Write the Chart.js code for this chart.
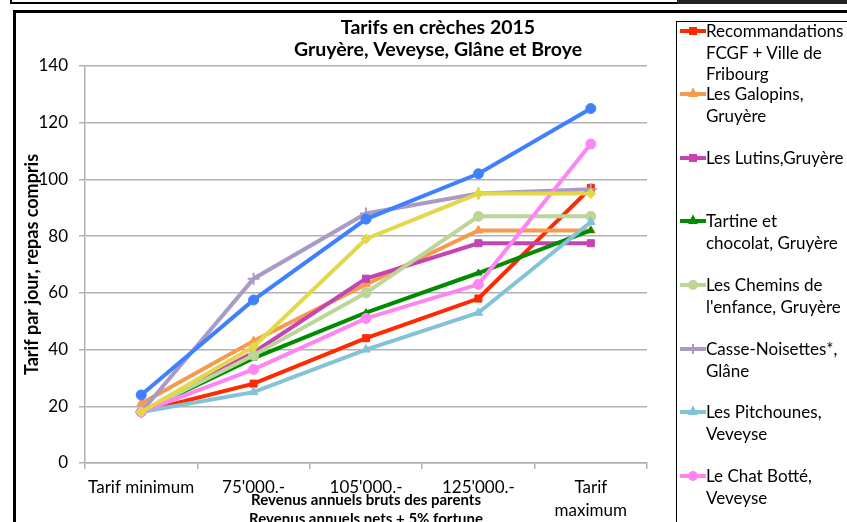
<!DOCTYPE html>
<html>
<head>
<meta charset="utf-8">
<script src="https://cdn.jsdelivr.net/npm/chart.js@4/dist/chart.umd.min.js"></script>
<style>
  html, body { margin: 0; padding: 0; background: #fff; overflow: hidden; width: 847px; height: 522px; }
  body { position: relative; font-family: Lato, sans-serif; }
  .topbox { position: absolute; left: 10px; top: -10px; width: 900px; height: 10px; border: 2px solid #000; }
  .topdark { position: absolute; left: 677px; top: 0; width: 180px; height: 4px; background: #222; }
  .frame { position: absolute; left: 13px; top: 10px; width: 900px; height: 600px; border: 3px solid #000; }
  #chart { position: absolute; left: 15px; top: 12px; }
  .legend { position: absolute; left: 676px; top: 21px; width: 300px; height: 600px; border: 1px solid #000; background: #fff; }
  .item { position: absolute; left: 0; font-size: 17px; line-height: 21.5px; color: #000; white-space: nowrap; }
  .item .txt { position: absolute; left: 29px; top: 0; }
  .item .line { position: absolute; left: 3px; top: 9px; width: 26px; height: 4px; }
  .item .mk { position: absolute; left: 11px; top: 6px; width: 10px; height: 10px; }
</style>
</head>
<body>
<div class="topbox"></div>
<div class="topdark"></div>
<div class="frame"></div>
<canvas id="chart" width="846" height="520"></canvas>
<div class="legend" id="legend"></div>
<script>
const categories = ['Tarif minimum', "75'000.-", "105'000.-", "125'000.-", ['Tarif', 'maximum']];

// libellés de la légende, coupés comme dans l'original
const seriesNames = [
    ['Recommandations', 'FCGF + Ville de', 'Fribourg'],
    ['Les Galopins,', 'Gruyère'],
    ['Les Lutins,Gruyère'],
    ['Tartine et', 'chocolat, Gruyère'],
    ['Les Chemins de', "l'enfance, Gruyère"],
    ['Casse-Noisettes*,', 'Glâne'],
    ['Les Pitchounes,', 'Veveyse'],
    ['Le Chat Botté,', 'Veveyse'],
    ['Série 9'],
    ['Série 10']
];

const recommandations = [18, 28, 44, 58, 97];
const galopins = [21, 43, 63, 82, 82];
const lutins = [18, 39, 65, 77.5, 77.5];
const tartine = [18, 37, 53, 67, 82];
const chemins = [18, 38, 60, 87, 87];
const casseNoisettes = [18, 65, 88, 95, 96.5];
const pitchounes = [18, 25, 40, 53, 85];
const chatBotte = [18, 33, 51, 63, 112.5];
const serieBleue = [24, 57.5, 86, 102, 125];
const serieJaune = [18, 41, 79, 95, 95];

const seriesData = [recommandations, galopins, lutins, tartine, chemins, casseNoisettes, pitchounes, chatBotte, serieBleue, serieJaune];
const seriesColors = ['#ff2a00', '#f59a4f', '#c444b4', '#008c00', '#bcd697', '#a99bc6', '#82c3d8', '#ff85f3', '#3f80ff', '#e2d84a'];
const seriesMarkers = ['rect', 'triangle', 'rect', 'triangle', 'circle', 'cross', 'triangle', 'circle', 'circle', 'rectRot'];
const legendRows = [30, 93, 157, 220, 284, 348, 411, 475];

const yTicks = { min: 0, max: 140, step: 20 };

const datasets = seriesData.map((d, i) => ({
    label: seriesNames[i].join(' '),
    data: d,
    borderColor: seriesColors[i],
    backgroundColor: seriesColors[i],
    borderWidth: 4,
    pointStyle: seriesMarkers[i],
    pointRadius: seriesMarkers[i] === 'cross' ? 6 : (i === 3 ? 4 : 5),
    pointBorderWidth: seriesMarkers[i] === 'cross' ? 2 : 1,
    pointBorderColor: seriesColors[i],
    pointBackgroundColor: seriesColors[i],
    tension: 0,
    order: seriesData.length - i
}));

const gray = '#b2b2b2';

new Chart(document.getElementById('chart'), {
    type: 'line',
    data: { labels: categories, datasets: datasets },
    options: {
        responsive: false,
        animation: false,
        layout: { padding: { left: 0, right: 0, top: 0, bottom: 3.5 } },
        plugins: {
            legend: { display: false },
            tooltip: { enabled: false },
            title: {
                display: true,
                text: ['Tarifs en crèches 2015', 'Gruyère, Veveyse, Glâne et Broye'],
                color: '#000',
                font: { family: 'Lato', size: 19.5, weight: 'bold', lineHeight: 22 / 19.5 },
                padding: { top: 5, bottom: 5 }
            }
        },
        scales: {
            x: {
                offset: true,
                grid: { offset: true, drawOnChartArea: false, drawTicks: true, tickLength: 6, color: gray, lineWidth: 1.5 },
                border: { color: gray, width: 1.5 },
                ticks: { color: '#000', font: { family: 'Lato', size: 17, lineHeight: 23 / 17 }, padding: 7, maxRotation: 0, autoSkip: false },
                title: {
                    display: true,
                    text: ['Revenus annuels bruts des parents', 'Revenus annuels nets + 5% fortune'],
                    color: '#000',
                    font: { family: 'Lato', size: 15, weight: 'bold', lineHeight: 19 / 15 },
                    padding: 0
                },
                afterFit: (scale) => { scale.height = 65.5; }
            },
            y: {
                min: yTicks.min,
                max: yTicks.max,
                grid: { color: gray, lineWidth: 1.5, tickLength: 6 },
                border: { color: gray, width: 1.5 },
                ticks: { stepSize: yTicks.step, color: '#000', font: { family: 'Lato', size: 17 }, padding: 11 },
                title: {
                    display: true,
                    text: 'Tarif par jour, repas compris',
                    color: '#000',
                    font: { family: 'Lato', size: 18, weight: 'bold', lineHeight: 1.2 },
                    padding: { top: 6, bottom: 0 }
                },
                afterFit: (scale) => { scale.width = 70; }
            },
            // axe vide à droite: réserve la place de la légende
            yRight: {
                position: 'right',
                display: true,
                grid: { display: false },
                border: { display: false },
                ticks: { display: false },
                afterFit: (scale) => { scale.width = 214; }
            }
        }
    }
});

// légende html (le texte est coupé en lignes comme dans Excel)
const legend = document.getElementById('legend');
legendRows.forEach((rowY, i) => {
    const item = document.createElement('div');
    item.className = 'item';
    item.style.top = (rowY - 21 - 10.75) + 'px';
    const line = document.createElement('div');
    line.className = 'line';
    line.style.background = seriesColors[i];
    item.appendChild(line);
    const mk = document.createElement('div');
    mk.className = 'mk';
    const m = seriesMarkers[i];
    if (m === 'circle') {
        mk.style.background = seriesColors[i];
        mk.style.borderRadius = '50%';
    } else if (m === 'rect') {
        mk.style.background = seriesColors[i];
        mk.style.left = '12px'; mk.style.top = '7px'; mk.style.width = '8px'; mk.style.height = '8px';
    } else if (m === 'triangle') {
        mk.style.background = seriesColors[i];
        mk.style.clipPath = 'polygon(50% 0, 100% 100%, 0 100%)';
        mk.style.top = '4px';
    } else if (m === 'cross') {
        mk.style.background = 'linear-gradient(' + seriesColors[i] + ',' + seriesColors[i] + ') center/2px 100% no-repeat';
    }
    item.appendChild(mk);
    const txt = document.createElement('div');
    txt.className = 'txt';
    txt.innerHTML = seriesNames[i].map(s => s.replace(/&/g, '&amp;')).join('<br>');
    item.appendChild(txt);
    legend.appendChild(item);
});
</script>
</body>
</html>
